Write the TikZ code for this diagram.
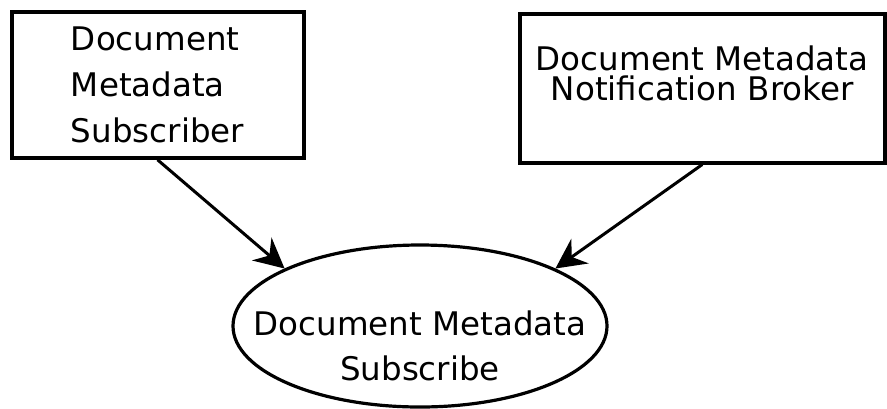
\documentclass[tikz,border=0pt]{standalone}
\usepackage{fontspec}
\setmainfont{DejaVu Sans}
\usetikzlibrary{arrows.meta,shapes.geometric}
\tikzset{
  actorbox/.style={
    rectangle,
    draw=black,
    line width=2pt,
    fill=white,
    inner sep=0pt
  },
  usecase/.style={
    ellipse,
    draw=black,
    line width=1.6pt,
    fill=white,
    align=center,
    inner xsep=-20pt,
    inner ysep=-8pt,
    minimum width=187pt,
    minimum height=81pt,
    font=\fontsize{16.25}{22.5}\selectfont
  },
  flowline/.style={-{Stealth[length=15pt,width=15pt,inset=5pt]},line width=1.5pt}
}

\begin{document}
\begin{tikzpicture}[x=0.5pt,y=-0.5pt]
  \useasboundingbox (0,0) rectangle (887,408);
  \node[actorbox, align=left, minimum width=146pt, minimum height=72.75pt,
        font=\fontsize{16.25}{23}\selectfont] (subscriber) at (157.5,85)
        {Document\\Metadata\\Subscriber};
  \node[actorbox, align=center, minimum width=182.75pt, minimum height=74.5pt,
        font=\fontsize{16.25}{15}\selectfont] (broker) at (702.25,88)
        {Document Metadata\\Notification Broker\\ ~};
  \node[usecase] (subscribe) at (420,326)
        {\strut\\Document Metadata\\Subscribe\strut};
  \draw[flowline] (subscriber.south) -- (subscribe.157);
  \draw[flowline] (broker.south) -- (subscribe.23);
\end{tikzpicture}
\end{document}
